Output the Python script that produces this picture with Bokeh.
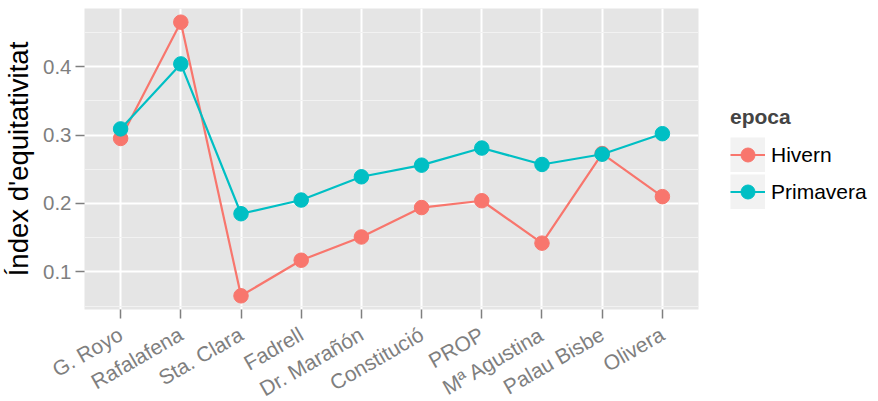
import math
from bokeh.plotting import figure
from bokeh.layouts import row
from bokeh.models import (FactorRange, Range1d, FixedTicker, Legend, LegendItem, ColumnDataSource)
from bokeh.embed import file_html
from bokeh.resources import INLINE

llocs = ["G. Royo", "Rafalafena", "Sta. Clara", "Fadrell", "Dr. Marañón",
         "Constitució", "PROP", "Mª Agustina", "Palau Bisbe", "Olivera"]
hivern = [0.295, 0.465, 0.065, 0.117, 0.151, 0.194, 0.204, 0.142, 0.273, 0.210]
primavera = [0.309, 0.404, 0.185, 0.205, 0.239, 0.256, 0.281, 0.257, 0.272, 0.302]
y_ticks = [0.1, 0.2, 0.3, 0.4]
y_minor = [0.05, 0.15, 0.25, 0.35, 0.45]
series_names = ["Hivern", "Primavera"]
colors = ["#F8766D", "#00BFC4"]

FONT = "Liberation Sans"

allv = hivern + primavera
lo, hi = min(allv), max(allv)
pad = (hi - lo) * 0.05

TOP = 8
BOTTOM = 84

p = figure(frame_width=614, frame_height=301, output_backend="svg", toolbar_location=None,
           x_range=FactorRange(factors=llocs, range_padding=0.02, range_padding_units="percent"),
           y_range=Range1d(lo - pad, hi + pad),
           min_border_left=78, min_border_right=20, min_border_top=TOP, min_border_bottom=BOTTOM)
p.outline_line_color = None
p.background_fill_color = "#E5E5E5"
p.border_fill_color = "white"

# grids
p.xgrid.grid_line_color = "white"
p.xgrid.grid_line_width = 2
p.ygrid.grid_line_color = "white"
p.ygrid.grid_line_width = 2
p.ygrid.minor_grid_line_color = "#F2F2F2"
p.ygrid.minor_grid_line_width = 1
p.yaxis.ticker = FixedTicker(ticks=y_ticks, minor_ticks=y_minor)

for ax in (p.xaxis[0], p.yaxis[0]):
    ax.axis_line_color = None
    ax.major_tick_line_color = "#7F7F7F"
    ax.major_tick_line_width = 1.5
    ax.major_tick_out = 9
    ax.major_tick_in = 0
    ax.minor_tick_line_color = None
    ax.major_label_text_font = FONT
    ax.major_label_text_font_size = "20.5px"
    ax.major_label_text_color = "#7F7F7F"
    ax.major_label_standoff = 4

p.xaxis.major_label_orientation = math.pi / 6
p.xaxis.major_label_text_font_size = "21px"
p.xaxis.major_label_standoff = 14
p.yaxis.axis_label = "Índex d'equitativitat"
p.yaxis.axis_label_text_font = FONT
p.yaxis.axis_label_text_font_size = "27.5px"
p.yaxis.axis_label_text_font_style = "normal"
p.yaxis.axis_label_text_color = "black"
p.yaxis.axis_label_standoff = 6

# legend panel as a separate, axis-less figure
q = figure(frame_width=150, frame_height=301, output_backend="svg", toolbar_location=None,
           x_range=Range1d(0, 1), y_range=Range1d(0, 1),
           min_border_left=0, min_border_right=0, min_border_top=TOP, min_border_bottom=BOTTOM)
q.axis.visible = False
q.grid.visible = False
q.outline_line_color = None
q.background_fill_color = "white"

# off-screen dummy point so the legend glyphs are drawn
hidden = dict(x=[-10, -11], y=[-10, -11])

items = []
for name, vals, col in zip(series_names, [hivern, primavera], colors):
    src = ColumnDataSource(data=dict(x=llocs, y=vals))
    p.line("x", "y", source=src, line_color=col, line_width=2.2)
    p.scatter("x", "y", source=src, size=14.5, fill_color=col, line_color=col)
    bg = q.line(x=hidden["x"], y=hidden["y"], line_color="#F2F2F2", line_width=35)
    ln = q.line(x=hidden["x"], y=hidden["y"], line_color=col, line_width=2.2)
    sc = q.scatter(x=hidden["x"], y=hidden["y"], size=14.5, fill_color=col, line_color=col)
    items.append(LegendItem(label=name, renderers=[bg, ln, sc]))

legend = Legend(items=items, location=(12, 100), title="epoca",
                title_text_font=FONT, title_text_font_style="bold", title_text_font_size="21px",
                label_text_font=FONT, label_text_font_size="21px", label_text_color="black",
                glyph_width=35, glyph_height=35, spacing=2, padding=0, margin=0,
                label_standoff=6, title_standoff=8,
                border_line_color=None, background_fill_alpha=0)
q.add_layout(legend, "center")

layout = row(p, q)
open("out.html", "w").write(file_html(layout, INLINE))
